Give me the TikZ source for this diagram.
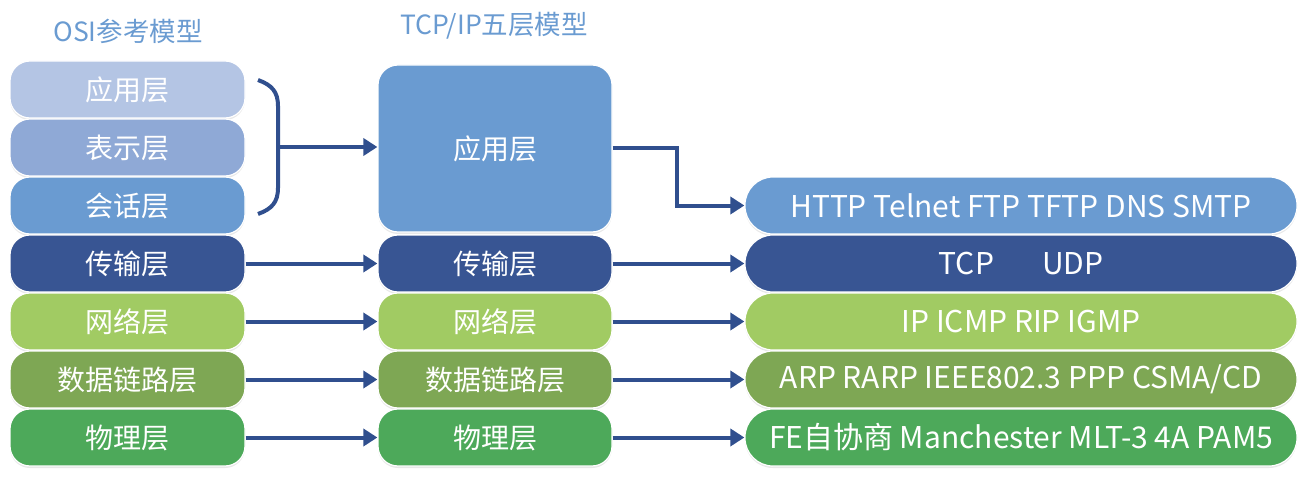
\documentclass[tikz,border=0pt]{standalone}
\usepackage{fontspec}
\setmainfont{Noto Sans CJK SC}
\usetikzlibrary{arrows.meta,shadows}
\definecolor{cA}{HTML}{B4C5E4}
\definecolor{cB}{HTML}{8FA9D6}
\definecolor{cC}{HTML}{6A9BD1}
\definecolor{cD}{HTML}{385593}
\definecolor{cE}{HTML}{A1CB63}
\definecolor{cF}{HTML}{7EA754}
\definecolor{cG}{HTML}{4DA95A}
\definecolor{arrc}{HTML}{304F8E}
\definecolor{titc}{HTML}{6A9BD1}
\tikzset{
  layer/.style={draw=white, line width=1.2pt, rounded corners=20pt, text=white,
    minimum height=57pt, inner sep=0pt, font=\fontsize{28}{30}\selectfont,
    drop shadow={opacity=0.18, shadow xshift=0pt, shadow yshift=-2pt}},
  osi/.style={layer, minimum width=235pt},
  mid/.style={layer, minimum width=234pt},
  proto/.style={layer, minimum width=552pt, rounded corners=28pt, font=\fontsize{30}{32}\selectfont},
  arr/.style={draw=arrc, line width=4pt, -{Triangle[length=14pt,width=17pt]}},
  title/.style={text=titc, font=\fontsize{26.5}{28}\selectfont},
}
\begin{document}
\begin{tikzpicture}[x=1pt,y=-1pt]
\useasboundingbox (0,0) rectangle (1312,484);
\node[title] (t1) at (128,31) {OSI参考模型};
\node[title] (t2) at (494,26) {TCP/IP五层模型};
% OSI column
\node[osi, fill=cA] (o1) at (127.5,89.5) {应用层};
\node[osi, fill=cB] (o2) at (127.5,147.5) {表示层};
\node[osi, fill=cC] (o3) at (127.5,205.5) {会话层};
\node[osi, fill=cD] (o4) at (127.5,263.5) {传输层};
\node[osi, fill=cE] (o5) at (127.5,321.5) {网络层};
\node[osi, fill=cF] (o6) at (127.5,379.5) {数据链路层};
\node[osi, fill=cG] (o7) at (127.5,437.5) {物理层};
% TCP/IP column
\node[mid, fill=cC, minimum height=167pt] (m1) at (495,148.5) {应用层};
\node[mid, fill=cD] (m2) at (495,263.5) {传输层};
\node[mid, fill=cE] (m3) at (495,321.5) {网络层};
\node[mid, fill=cF] (m4) at (495,379.5) {数据链路层};
\node[mid, fill=cG] (m5) at (495,437.5) {物理层};
% protocols
\node[proto, fill=cC] (p1) at (1021,205.5) {HTTP Telnet FTP TFTP DNS SMTP};
\node[proto, fill=cD] (p2) at (1021,263.5) {TCP\hspace{1.6em}UDP};
\node[proto, fill=cE] (p3) at (1021,321.5) {IP ICMP RIP IGMP};
\node[proto, fill=cF] (p4) at (1021,379.5) {ARP RARP IEEE802.3 PPP CSMA/CD};
\node[proto, fill=cG] (p5) at (1021,437.5) {FE自协商 Manchester MLT-3 4A PAM5};
% brace
\coordinate (bt) at (258,80);
\coordinate (bb) at (258,214);
\coordinate (bm) at (278,147);
\draw[arrc, line width=4pt] (bt) .. controls (272,85) and (278,92) .. (278,106) -- (278,188) .. controls (278,202) and (272,209) .. (bb);
\draw[arr] (bm) -- (m1.west |- bm);
% arrows
\draw[arr] (o4) -- (m2);
\draw[arr] (o5) -- (m3);
\draw[arr] (o6) -- (m4);
\draw[arr] (o7) -- (m5);
\draw[arr] (m1.east |- 0,148) -- ++(64,0) |- (p1.west);
\draw[arr] (m2) -- (p2);
\draw[arr] (m3) -- (p3);
\draw[arr] (m4) -- (p4);
\draw[arr] (m5) -- (p5);
\end{tikzpicture}
\end{document}
